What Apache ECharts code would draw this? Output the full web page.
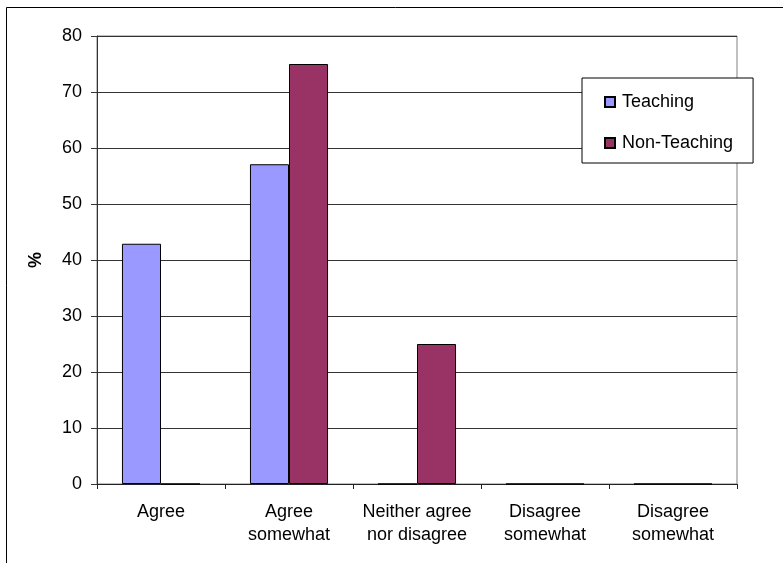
<!DOCTYPE html>
<html>
<head>
<meta charset="utf-8">
<script src="https://cdn.jsdelivr.net/npm/echarts@6/dist/echarts.min.js"></script>
<style>
  html, body { margin: 0; padding: 0; background: #fff; }
  #chart { width: 783px; height: 563px; }
</style>
</head>
<body>
<div id="chart"></div>
<script>
// categories and values
const categories = ['Agree', 'Agree\nsomewhat', 'Neither agree\nnor disagree', 'Disagree\nsomewhat', 'Disagree\nsomewhat'];
const teaching = [42.9, 57.1, 0, 0, 0];
const nonTeaching = [0, 75, 25, 0, 0];
const yTicks = [0, 10, 20, 30, 40, 50, 60, 70, 80];

const font = '"Liberation Sans", Arial, sans-serif';

const chart = echarts.init(document.getElementById('chart'));
chart.setOption({
  animation: false,
  backgroundColor: '#fff',
  textStyle: { fontFamily: font },
  // outer chart frame (clipped on right and bottom in the original)
  graphic: [{
    type: 'rect',
    shape: { x: 6.5, y: 7.5, width: 900, height: 700 },
    style: { fill: null, stroke: '#000', lineWidth: 1 },
    silent: true
  }],
  grid: {
    left: 97, right: 46, top: 36, bottom: 79,
    show: true, borderColor: '#808080', borderWidth: 1,
    backgroundColor: 'transparent'
  },
  legend: {
    orient: 'vertical',
    left: 582, top: 78,
    padding: [15, 20, 11, 22],
    itemGap: 23,
    itemWidth: 10, itemHeight: 10,
    backgroundColor: '#fff',
    borderColor: '#000', borderWidth: 1,
    borderRadius: 0,
    icon: 'rect',
    textStyle: { fontSize: 18, color: '#000', fontFamily: font, padding: [0, 0, 0, 2] },
    data: ['Teaching', 'Non-Teaching']
  },
  xAxis: {
    type: 'category',
    data: categories,
    axisLine: { lineStyle: { color: '#222', width: 1 } },
    axisTick: { show: true, length: 5, lineStyle: { color: '#222' } },
    axisLabel: { color: '#000', fontSize: 18, lineHeight: 23, margin: 17, interval: 0, fontFamily: font },
    splitLine: { show: false }
  },
  yAxis: {
    type: 'value',
    min: yTicks[0], max: yTicks[yTicks.length - 1], interval: 10,
    name: '%',
    nameLocation: 'middle',
    nameGap: 52,
    nameRotate: 90,
    nameTextStyle: { fontSize: 18, fontWeight: 'bold', color: '#000', fontFamily: font },
    axisLine: { show: true, lineStyle: { color: '#333', width: 1 } },
    axisTick: { show: true, length: 6, inside: false, lineStyle: { color: '#333' } },
    axisLabel: { color: '#000', fontSize: 18, margin: 15, fontFamily: font },
    splitLine: { show: true, lineStyle: { color: '#333', width: 1 } }
  },
  series: [
    {
      name: 'Teaching',
      type: 'bar',
      data: teaching,
      barGap: '0%',
      barCategoryGap: '39%',
      itemStyle: { color: '#9999FF', borderColor: '#000', borderWidth: 1 }
    },
    {
      name: 'Non-Teaching',
      type: 'bar',
      data: nonTeaching,
      barGap: '0%',
      barCategoryGap: '39%',
      itemStyle: { color: '#993366', borderColor: '#000', borderWidth: 1 }
    }
  ]
});
</script>
</body>
</html>
